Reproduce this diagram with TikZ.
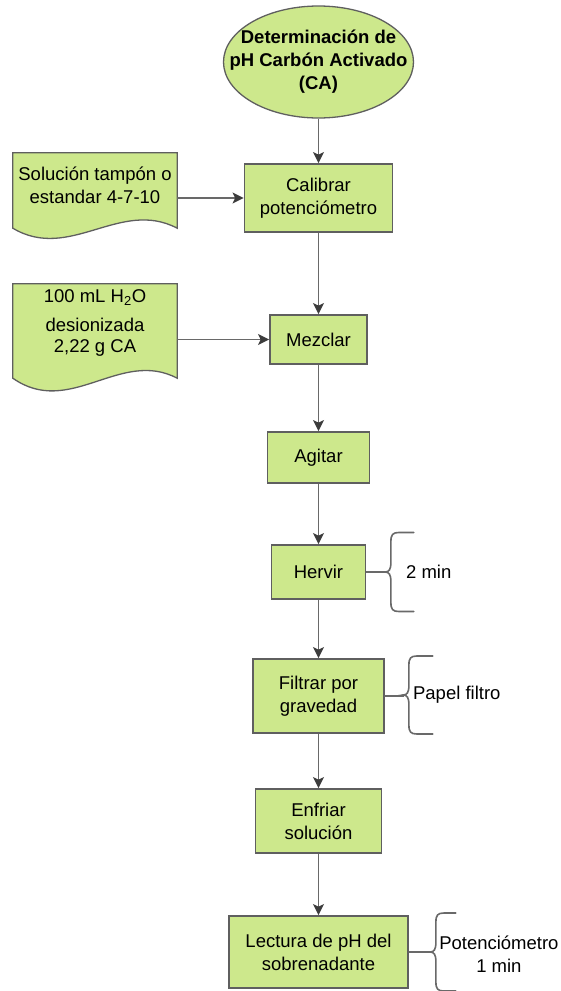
\documentclass[tikz,border=0pt]{standalone}
\usepackage{fontspec}
\setmainfont{Liberation Sans}
\usetikzlibrary{arrows.meta,shapes.geometric,calc}

\definecolor{boxfill}{RGB}{205,232,140}
\definecolor{boxline}{RGB}{95,95,95}
\definecolor{flowline}{RGB}{105,105,105}
\definecolor{tipcol}{RGB}{60,60,60}

\tikzset{
  base/.style={font=\fontsize{18.5}{23}\selectfont, align=center, inner sep=0pt, text=black},
  stepbox/.style={base, rectangle, draw=boxline, fill=boxfill, line width=1.8pt},
  startnode/.style={ellipse, draw=boxline, fill=boxfill, line width=1.3pt, inner sep=0pt},
  starttext/.style={base, font=\fontsize{18.5}{23}\selectfont\bfseries},
  docframe/.style={rectangle, inner sep=0pt},
  docshape/.style={draw=boxline, fill=boxfill, line width=1.3pt},
  flow/.style={draw=flowline, line width=1.6pt,
    -{Stealth[length=11pt,width=11pt,inset=2.5pt,color=tipcol]}},
  bracestyle/.style={draw=flowline, line width=1.6pt, line cap=round},
  note/.style={base},
}

% left curly bracket: #1 tip coordinate, #2 half height, #3 width
\newcommand{\drawcurly}[3]{%
  \draw[bracestyle] ($(#1)+(#3,-#2)$) -- ($(#1)+(14,-#2)$)
    .. controls +(-6,0) and +(0,-7) .. ($(#1)+(6,-#2+9)$)
    -- ($(#1)+(6,-10)$)
    .. controls +(0,8) and +(4,0) .. (#1)
    .. controls +(4,0) and +(0,-8) .. ($(#1)+(6,10)$)
    -- ($(#1)+(6,#2-9)$)
    .. controls +(0,7) and +(-6,0) .. ($(#1)+(14,#2)$)
    -- ($(#1)+(#3,#2)$);}

\begin{document}
\begin{tikzpicture}[x=1pt,y=-1pt]
\useasboundingbox (0,0) rectangle (561,991);

% main column
\node[startnode, minimum width=190pt, minimum height=112pt] (start) at (318.5,62) {};
\node[starttext] (starttxt) at (start) {Determinación de\\pH Carbón Activado\\(CA)};
\node[stepbox, minimum width=148pt, minimum height=68pt] (cal) at (318.5,198)
  {Calibrar\\potenciómetro};
\node[stepbox, minimum width=97pt, minimum height=49pt] (mez) at (318.5,339.5) {Mezclar};
\node[stepbox, minimum width=102pt, minimum height=51pt] (agi) at (318.5,457.5) {Agitar};
\node[stepbox, minimum width=94pt, minimum height=54pt] (herv) at (318.5,572) {Hervir};
\node[stepbox, minimum width=131pt, minimum height=74pt] (fil) at (318.5,696)
  {Filtrar por\\gravedad};
\node[stepbox, minimum width=126pt, minimum height=64pt] (enf) at (318.5,821)
  {Enfriar\\solución};
\node[stepbox, minimum width=179pt, minimum height=72pt] (lec) at (318.5,952)
  {Lectura de pH del\\sobrenadante};

% input documents
\node[docframe, minimum width=164pt, minimum height=75pt] (doc1) at (95,190.5) {};
\path[docshape] (doc1.north west) -- (doc1.north east) -- (doc1.south east)
  .. controls +(-57,-30) and +(57,34) .. (doc1.south west) -- cycle;
\node[base] (doc1txt) at ($(doc1)+(0,-5.5)$) {Solución tampón o\\estandar 4-7-10};

\node[docframe, minimum width=164pt, minimum height=94pt] (doc2) at (95,331) {};
\path[docshape] (doc2.north west) -- (doc2.north east) -- (doc2.south east)
  .. controls +(-57,-30) and +(57,40) .. (doc2.south west) -- cycle;
\node[base] (doc2txt) at ($(doc2)+(0,-8)$)
  {100 mL H\textsubscript{2}O\\[6pt]desionizada\\[-2pt]2,22 g CA};

% connectors
\draw[flow] (start) -- (cal);
\draw[flow] (cal) -- (mez);
\draw[flow] (mez) -- (agi);
\draw[flow] (agi) -- (herv);
\draw[flow] (herv) -- (fil);
\draw[flow] (fil) -- (enf);
\draw[flow] (enf) -- (lec);
\draw[flow] (doc1.east |- cal.west) -- (cal.west);
\draw[flow] (doc2.east |- mez.west) -- (mez.west);

% side notes
\coordinate (b1) at ($(herv.east)+(18.5,0)$);
\draw[bracestyle] (herv.east) -- (b1);
\drawcurly{b1}{39.5}{29}
\node[note, anchor=west] (n1) at ($(b1)+(21,0)$) {2 min};

\coordinate (b2) at ($(fil.east)+(18,-1)$);
\draw[bracestyle] (fil.east) -- (fil.east -| b2) -- (b2);
\drawcurly{b2}{39}{30}
\node[note, anchor=west] (n2) at ($(b2)+(10,0)$) {Papel filtro};

\coordinate (b3) at ($(lec.east)+(21,0)$);
\draw[bracestyle] (lec.east) -- (b3);
\drawcurly{b3}{39}{26}
\node[note] (n3) at ($(b3)+(69,2.5)$) {Potenciómetro\\1 min};
\end{tikzpicture}
\end{document}
